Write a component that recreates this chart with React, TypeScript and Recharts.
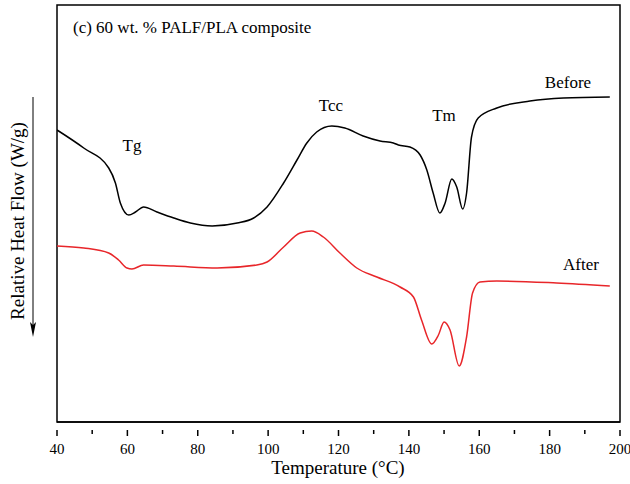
import React from "react";
import { LineChart, Line, XAxis, YAxis, ReferenceArea } from "recharts";

const beforeTemp = [40, 47.6, 54.7, 56.6, 58.0, 60.4, 62.3, 64.6, 68.4, 73.2, 77.9, 84.1, 91.2, 95.9, 99.7, 104.4, 108.2, 111.0, 113.8, 118.1, 121.8, 127.0, 131.8, 135.6, 137.0, 140.3, 143.2, 145.1, 146.9, 148.8, 150.3, 152.2, 153.6, 155.3, 156.4, 157.8, 159.7, 165.0, 174.4, 183.9, 197.1];
const beforeFlow = [2.92, 2.74, 2.54, 2.39, 2.19, 2.07, 2.10, 2.15, 2.10, 2.04, 1.99, 1.96, 1.99, 2.04, 2.15, 2.39, 2.62, 2.79, 2.90, 2.96, 2.94, 2.86, 2.81, 2.79, 2.77, 2.75, 2.67, 2.52, 2.29, 2.09, 2.19, 2.43, 2.35, 2.13, 2.29, 2.85, 3.04, 3.14, 3.21, 3.24, 3.25];

const afterTemp = [40, 47.6, 54.7, 57.5, 59.9, 61.3, 64.6, 73.2, 85.5, 96.8, 99.7, 104.4, 109.1, 112.4, 115.7, 120.4, 125.2, 130.9, 137.5, 141.3, 143.6, 146.5, 148.4, 150.0, 151.7, 154.3, 156.4, 158.1, 160.2, 165.0, 182.0, 197.1];
const afterFlow = [1.76, 1.74, 1.69, 1.62, 1.54, 1.53, 1.57, 1.56, 1.54, 1.57, 1.60, 1.75, 1.89, 1.91, 1.85, 1.69, 1.54, 1.45, 1.35, 1.25, 1.02, 0.78, 0.87, 1.00, 0.92, 0.56, 0.85, 1.29, 1.40, 1.41, 1.39, 1.36];

const xTicks = [40, 50, 60, 70, 80, 90, 100, 110, 120, 130, 140, 150, 160, 170, 180, 190, 200];

const beforeData = beforeTemp.map((t, i) => ({ t, v: beforeFlow[i] }));
const afterData = afterTemp.map((t, i) => ({ t, v: afterFlow[i] }));

const FONT = "'Liberation Serif', 'DejaVu Serif', serif";

const XTick = (props: any) => {
  const { x, y, payload } = props;
  const major = payload.value % 20 === 0;
  return (
    <g>
      <line x1={x} y1={y} x2={x} y2={y + (major ? 6 : 4)} stroke="#000" strokeWidth={1.5} />
      {major && (
        <text x={x} y={y + 24} textAnchor="middle" fontFamily={FONT} fontSize={15} fill="#000">
          {payload.value}
        </text>
      )}
    </g>
  );
};

export default function App() {
  return (
    <div style={{ position: "absolute", left: 0, top: 0, width: 630, height: 484, background: "#fff" }}>
      <LineChart width={630} height={484} margin={{ top: 5, right: 10, left: 57, bottom: 0 }}>
        <XAxis
          dataKey="t"
          type="number"
          domain={[40, 200]}
          ticks={xTicks}
          interval={0}
          tick={<XTick />}
          tickLine={false}
          axisLine={{ stroke: "#000", strokeWidth: 1.5 }}
          height={62}
          allowDataOverflow
        />
        <YAxis type="number" domain={[0, 4.17]} hide width={0} allowDataOverflow />
        <ReferenceArea x1={40} x2={200} y1={0} y2={4.17} fill="none" stroke="#000" strokeWidth={1.5} ifOverflow="visible" />
        <Line data={beforeData} dataKey="v" type="monotone" stroke="#000" strokeWidth={1.5} dot={false} isAnimationActive={false} />
        <Line data={afterData} dataKey="v" type="monotone" stroke="#e8262a" strokeWidth={1.5} dot={false} isAnimationActive={false} />
      </LineChart>
      <svg width={630} height={484} style={{ position: "absolute", left: 0, top: 0, pointerEvents: "none" }}>
        <text x={73} y={33} fontFamily={FONT} fontSize={17} fill="#000">(c) 60 wt. % PALF/PLA composite</text>
        <text x={132} y={151} textAnchor="middle" fontFamily={FONT} fontSize={17} fill="#000">Tg</text>
        <text x={331} y={111} textAnchor="middle" fontFamily={FONT} fontSize={17} fill="#000">Tcc</text>
        <text x={444} y={121} textAnchor="middle" fontFamily={FONT} fontSize={17} fill="#000">Tm</text>
        <text x={568} y={88} textAnchor="middle" fontFamily={FONT} fontSize={17} fill="#000">Before</text>
        <text x={581} y={270} textAnchor="middle" fontFamily={FONT} fontSize={17} fill="#000">After</text>
        <text x={338} y={474} textAnchor="middle" fontFamily={FONT} fontSize={19} fill="#000">Temperature (°C)</text>
        <text x={24} y={221} textAnchor="middle" fontFamily={FONT} fontSize={19} fill="#000" transform="rotate(-90 24 221)">Relative Heat Flow (W/g)</text>
        <line x1={33} y1={97} x2={33} y2={326} stroke="#000" strokeWidth={1} />
        <polygon points="30,322 33,337 36,322 33,325" fill="#000" />
      </svg>
    </div>
  );
}
